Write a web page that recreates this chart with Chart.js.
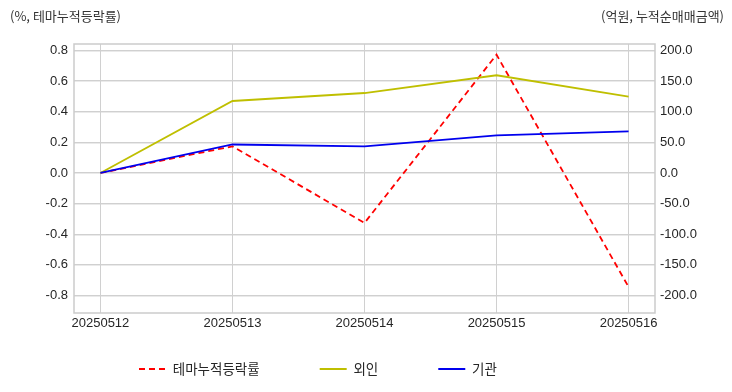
<!DOCTYPE html>
<html>
<head>
<meta charset="utf-8">
<script src="https://cdn.jsdelivr.net/npm/chart.js@4"></script>
<style>
    html, body { margin: 0; padding: 0; background: #fff; }
    #wrap { width: 732px; height: 392px; }
</style>
</head>
<body>
<div id="wrap"><canvas id="themeChart" width="732" height="392"></canvas></div>
<script>
// data
const dates = ['20250512', '20250513', '20250514', '20250515', '20250516'];
const themeRate = [0, 0.174, -0.326, 0.772, -0.744];   // 테마누적등락률 (%)
const foreign = [0, 117.5, 130.5, 159.5, 124.5];        // 외인 (억원)
const institution = [0, 46.5, 43.4, 61.4, 67.9];        // 기관 (억원)
const leftTicks = [-0.8, -0.6, -0.4, -0.2, 0, 0.2, 0.4, 0.6, 0.8];
const rightTicks = [-200, -150, -100, -50, 0, 50, 100, 150, 200];

const FONT = "'Liberation Sans', 'Noto Sans CJK KR', sans-serif";
const KFONT = "'Noto Sans CJK KR', sans-serif";
const GRID = '#d0d0d0';
const TEXT = '#262626';
const LEGEND_GAP = 60;

function toPoints(values) {
    return values.map((v, i) => ({ x: i, y: v }));
}

// legend items keep the dataset dash and width
function legendLabels(chart) {
    const items = Chart.defaults.plugins.legend.labels.generateLabels(chart);
    items.forEach(item => {
        const ds = chart.data.datasets[item.datasetIndex];
        item.lineDash = ds.borderDash || [];
        item.lineWidth = ds.borderWidth;
        item.strokeStyle = ds.borderColor;
    });
    return items;
}

// axis captions + plot frame
const framePlugin = {
    id: 'frame',
    afterLayout(chart) {
        // put the legend row where the original has it
        const lg = chart.legend;
        if (lg) {
            lg.left = 139 - LEGEND_GAP;
            lg.right = 732;
            lg.top = 369 - LEGEND_GAP - 6.75;
            lg.bottom = 392;
        }
    },
    afterDatasetsDraw(chart) {
        const { ctx, chartArea: a } = chart;
        ctx.save();
        ctx.strokeStyle = '#cbcbcb';
        ctx.lineWidth = 1.5;
        ctx.strokeRect(a.left, a.top, a.right - a.left, a.bottom - a.top);
        ctx.restore();
    },
    afterDraw(chart) {
        const ctx = chart.ctx;
        ctx.save();
        ctx.font = '13px ' + KFONT;
        ctx.fillStyle = '#333';
        ctx.textBaseline = 'middle';
        ctx.textAlign = 'left';
        ctx.fillText('(%, 테마누적등락률)', 10, 16);
        ctx.textAlign = 'right';
        ctx.fillText('(억원, 누적순매매금액)', 724, 16);
        ctx.restore();
    }
};

new Chart(document.getElementById('themeChart').getContext('2d'), {
    type: 'line',
    data: {
        datasets: [{
            label: '테마누적등락률',
            data: toPoints(themeRate),
            yAxisID: 'y',
            borderColor: '#ff0000',
            backgroundColor: '#ff0000',
            borderWidth: 1.8,
            borderDash: [6, 4],
            pointRadius: 0,
            tension: 0,
            order: 2
        }, {
            label: '외인',
            data: toPoints(foreign),
            yAxisID: 'y1',
            borderColor: '#bfbf00',
            backgroundColor: '#bfbf00',
            borderWidth: 1.8,
            pointRadius: 0,
            tension: 0,
            order: 1
        }, {
            label: '기관',
            data: toPoints(institution),
            yAxisID: 'y1',
            borderColor: '#0000ee',
            backgroundColor: '#0000ee',
            borderWidth: 1.8,
            pointRadius: 0,
            tension: 0,
            order: 0
        }]
    },
    options: {
        responsive: false,
        animation: false,
        layout: { padding: { top: 44, left: 0, right: 0, bottom: 7 } },
        plugins: {
            tooltip: { enabled: false },
            legend: {
                position: 'bottom',
                align: 'start',
                maxHeight: 33,
                labels: {
                    usePointStyle: true,
                    pointStyle: 'line',
                    pointStyleWidth: 27,
                    padding: LEGEND_GAP,
                    color: TEXT,
                    font: { family: KFONT, size: 13.5 },
                    generateLabels: legendLabels,
                    sort: (a, b) => a.datasetIndex - b.datasetIndex
                }
            }
        },
        scales: {
            x: {
                type: 'linear',
                min: -0.2,
                max: 4.2,
                afterBuildTicks: s => { s.ticks = dates.map((d, i) => ({ value: i })); },
                afterFit: s => { s.height = 39; },
                ticks: {
                    callback: v => dates[v],
                    color: TEXT,
                    padding: 3,
                    maxRotation: 0,
                    font: { family: FONT, size: 13 }
                },
                grid: { color: GRID, lineWidth: 1, drawTicks: false },
                border: { display: false }
            },
            y: {
                position: 'left',
                min: -0.914,
                max: 0.842,
                afterBuildTicks: s => { s.ticks = leftTicks.map(v => ({ value: v })); },
                afterFit: s => { s.width = 74; },
                ticks: {
                    callback: v => v.toFixed(1),
                    color: TEXT,
                    padding: 6,
                    font: { family: FONT, size: 13 }
                },
                grid: { color: GRID, lineWidth: 1.2, drawTicks: false },
                border: { display: false }
            },
            y1: {
                position: 'right',
                min: -228.5,
                max: 210.5,
                afterBuildTicks: s => { s.ticks = rightTicks.map(v => ({ value: v })); },
                afterFit: s => { s.width = 77; },
                ticks: {
                    callback: v => v.toFixed(1),
                    color: TEXT,
                    padding: 5,
                    font: { family: FONT, size: 13 }
                },
                grid: { color: GRID, lineWidth: 1.2, drawTicks: false },
                border: { display: false }
            }
        }
    },
    plugins: [framePlugin]
});
</script>
</body>
</html>
